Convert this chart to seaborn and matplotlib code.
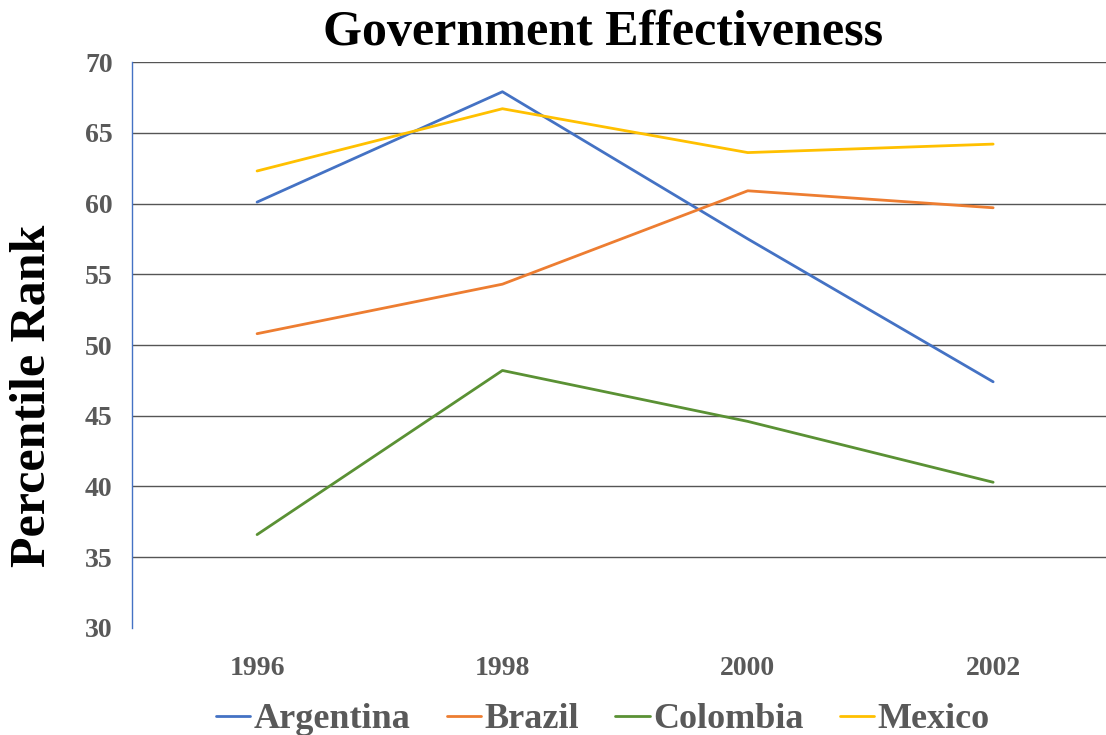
import matplotlib
matplotlib.use("Agg")
from matplotlib import pyplot as plt
import seaborn as sns
import pandas as pd

years = ["1996", "1998", "2000", "2002"]
countries = ["Argentina", "Brazil", "Colombia", "Mexico"]
argentina = [60.1, 67.9, 57.5, 47.4]
brazil = [50.8, 54.3, 60.9, 59.7]
colombia = [36.6, 48.2, 44.6, 40.3]
mexico = [62.3, 66.7, 63.6, 64.2]

colors = {"Argentina": "#4472C4", "Brazil": "#ED7D31",
          "Colombia": "#5A9134", "Mexico": "#FFC000"}

rows = []
for name, vals in zip(countries, [argentina, brazil, colombia, mexico]):
    for yr, v in zip(years, vals):
        rows.append({"Year": yr, "Country": name, "Rank": v})
df = pd.DataFrame(rows)

sns.set_style("white")
plt.rcParams['font.family'] = ['Liberation Serif', 'DejaVu Serif']

fig = plt.figure(figsize=(11.06, 7.35), dpi=100)
ax = fig.add_axes([0.1193, 0.1456, 0.8807, 0.77])

sns.lineplot(data=df, x="Year", y="Rank", hue="Country", hue_order=countries,
             palette=colors, linewidth=2, ax=ax, legend=True)

ax.set_ylim(30, 70)
ax.set_yticks(range(30, 71, 5))
ax.set_xlim(-0.51, 3.46)
for y in range(35, 71, 5):
    ax.axhline(y, color="#555555", linewidth=1, zorder=0)

for s in ["top", "right", "bottom"]:
    ax.spines[s].set_visible(False)
ax.spines["left"].set_color("#4472C4")
ax.spines["left"].set_linewidth(1)

ax.tick_params(axis="both", length=0, labelsize=20, labelcolor="#595959")
ax.tick_params(axis="y", pad=14)
ax.tick_params(axis="x", pad=20)
for lab in ax.get_xticklabels() + ax.get_yticklabels():
    lab.set_fontweight("bold")

ax.set_xlabel("")
ax.set_ylabel("Percentile Rank", fontsize=36, fontweight="bold", color="black")
ax.yaxis.set_label_coords(-0.078, 0.41)
fig.text(0.545, 0.955, "Government Effectiveness", fontsize=36,
         fontweight="bold", color="black", ha="center", va="center")

ax.get_legend().remove()
handles, labels = ax.get_legend_handles_labels()
leg = fig.legend(handles, labels, loc="center", ncol=4, frameon=False,
                 bbox_to_anchor=(0.545, 0.021), fontsize=26, handlelength=0.95,
                 handletextpad=0.1, columnspacing=1.0)
for t in leg.get_texts():
    t.set_color("#595959")
    t.set_fontweight("bold")

plt.savefig("out.png", dpi=100)
plt.close()
